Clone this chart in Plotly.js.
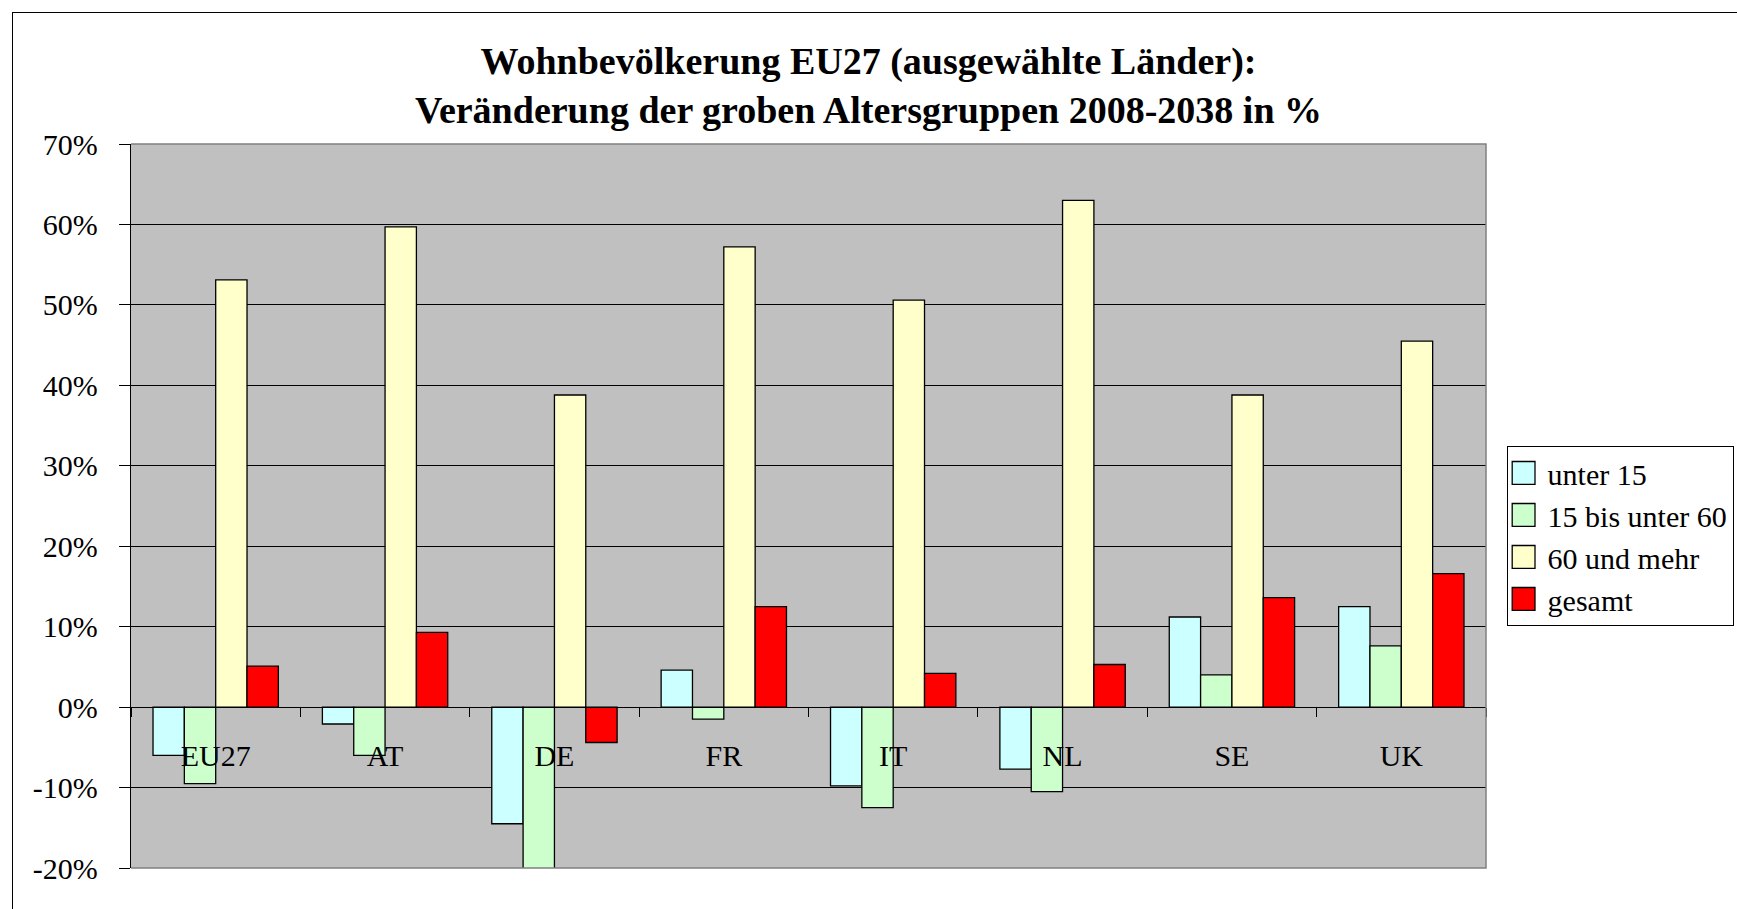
<!DOCTYPE html>
<html>
<head>
<meta charset="utf-8">
<script src="https://cdn.plot.ly/plotly-3.0.1.min.js"></script>
<style>
  html, body { margin: 0; padding: 0; background: #fff; overflow: hidden; }
  #frame { position: absolute; left: 12px; top: 12px; width: 2000px; height: 2000px; border: 1.5px solid #000; box-sizing: border-box; pointer-events: none; z-index: 5; }
  #chart { position: absolute; left: 0; top: 0; width: 1737px; height: 909px; }
</style>
</head>
<body>
<div id="chart"></div>
<div id="frame"></div>
<script>
const countries = ["EU27", "AT", "DE", "FR", "IT", "NL", "SE", "UK"];
const seriesNames = ["unter 15", "15 bis unter 60", "60 und mehr", "gesamt"];
const under15   = [-6.0, -2.1, -14.5,  4.6,  -9.8,  -7.7, 11.2, 12.5];
const age15to60 = [-9.5, -6.0, -20.3, -1.5, -12.5, -10.5,  4.0,  7.6];
const age60plus = [53.1, 59.7,  38.8, 57.2,  50.6,  63.0, 38.8, 45.5];
const total     = [ 5.1,  9.3,  -4.4, 12.5,   4.2,   5.3, 13.6, 16.6];
const seriesColors = ["#CCFFFF", "#CCFFCC", "#FFFFCC", "#FF0000"];
const yTickVals = [-20, -10, 0, 10, 20, 30, 40, 50, 60, 70];

const serif = "Liberation Serif, serif";
const allValues = [under15, age15to60, age60plus, total];

const traces = allValues.map((vals, i) => ({
  type: "bar",
  name: seriesNames[i],
  x: countries,
  y: vals,
  marker: { color: seriesColors[i], line: { color: "#000", width: 1.3 } },
  hoverinfo: "x+y+name"
}));

const yMin = -20, yMax = 70;
const zeroPos = (0 - yMin) / (yMax - yMin);

const layout = {
  width: 1737,
  height: 909,
  margin: { l: 131, r: 251, t: 144, b: 41, pad: 0, autoexpand: false },
  paper_bgcolor: "#ffffff",
  plot_bgcolor: "#C0C0C0",
  barmode: "group",
  bargap: 0.26,
  bargroupgap: 0,
  font: { family: serif, color: "#000" },
  title: {
    text: "<b>Wohnbevölkerung EU27 (ausgewählte Länder):<br>Veränderung der groben Altersgruppen 2008-2038 in %</b>",
    font: { family: serif, size: 38, color: "#000" },
    x: 0.5, xanchor: "center",
    y: 0.919, yanchor: "middle"
  },
  xaxis: {
    type: "category",
    anchor: "free",
    position: zeroPos,
    showline: true, linecolor: "#000", linewidth: 1.3,
    ticks: "outside", tickson: "boundaries", ticklen: 9, tickcolor: "#000", tickwidth: 1,
    ticklabelstandoff: 22,
    showgrid: false, zeroline: false,
    tickfont: { family: serif, size: 30, color: "#000" },
    fixedrange: true
  },
  yaxis: {
    range: [yMin, yMax],
    tickvals: yTickVals,
    ticktext: yTickVals.map(v => v + "%"),
    showline: true, linecolor: "#000", linewidth: 1.3,
    ticks: "outside", ticklen: 11, tickcolor: "#000", tickwidth: 1,
    ticklabelstandoff: 15,
    showgrid: true, gridcolor: "#000", gridwidth: 1,
    zeroline: false,
    tickfont: { family: serif, size: 30, color: "#000" },
    fixedrange: true
  },
  legend: {
    x: 1.0152, xanchor: "left",
    y: 0.583, yanchor: "top",
    bgcolor: "#ffffff",
    bordercolor: "#000", borderwidth: 1,
    font: { family: serif, size: 30, color: "#000" },
    traceorder: "normal",
    itemwidth: 30
  },
  shapes: [{
    type: "path", xref: "paper", yref: "paper",
    path: "M 0 1 L 1 1 L 1 0 L 0 0",
    line: { color: "#808080", width: 1.5 },
    layer: "above"
  }],
  showlegend: true
};

function enlargeSwatches() {
  document.querySelectorAll("#chart .legendpoints path").forEach(p => {
    const t = p.getAttribute("transform") || "";
    if (!t.includes("scale")) {
      p.setAttribute("transform", t + " translate(-4,0) scale(1.9)");
      p.style.vectorEffect = "non-scaling-stroke";
    }
  });
}

Plotly.newPlot("chart", traces, layout, { displayModeBar: false, responsive: false }).then(gd => {
  enlargeSwatches();
  gd.on("plotly_afterplot", enlargeSwatches);
});
</script>
</body>
</html>
